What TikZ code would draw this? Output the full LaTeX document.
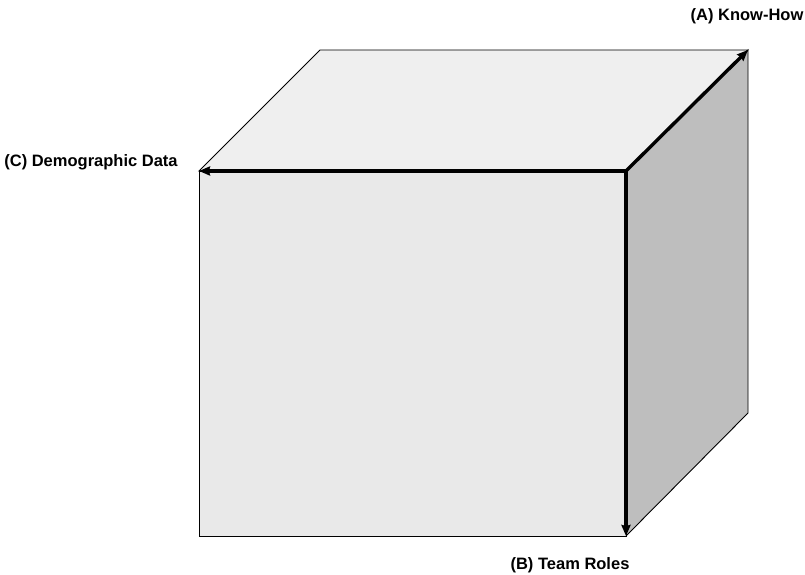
\documentclass[tikz,border=0pt]{standalone}
\usepackage{fontspec}
\setmainfont{Liberation Sans}
\usetikzlibrary{arrows.meta}
\definecolor{frontgray}{HTML}{E9E9E9}
\definecolor{topgray}{HTML}{EFEFEF}
\definecolor{sidegray}{HTML}{BEBEBE}
\begin{document}
\begin{tikzpicture}[x=1pt,y=1pt,font=\fontsize{16.5}{19}\selectfont\bfseries,
  face/.style={draw=black, line width=0.9pt, line join=miter},
  axis/.style={line width=3.4pt, -{Stealth[length=11pt,width=9pt,inset=1pt]}}]
\useasboundingbox (0,0) rectangle (805,575);
% corners of the cube
\coordinate (fbl) at (199,39);
\coordinate (fbr) at (626,39);
\coordinate (ftl) at (199,404);
\coordinate (ftr) at (626,404);
\coordinate (btl) at (320,525);
\coordinate (btr) at (748,525);
\coordinate (bbr) at (748,162);
% faces
\draw[face, fill=topgray] (ftl) -- (btl) -- (btr) -- (ftr) -- cycle;
\draw[face, fill=sidegray] (ftr) -- (btr) -- (bbr) -- (fbr) -- cycle;
\draw[face, fill=frontgray] (fbl) rectangle (ftr);
% axes
\draw[axis] (ftr) -- (btr);
\draw[axis] (ftr) -- (ftl);
\draw[axis] (ftr) -- (fbr);
% labels
\node (knowhow) at (747,559) {(A) Know-How};
\node (demodata) at (91,413) {(C) Demographic Data};
\node (teamroles) at (570,10) {(B) Team Roles};
\end{tikzpicture}
\end{document}
